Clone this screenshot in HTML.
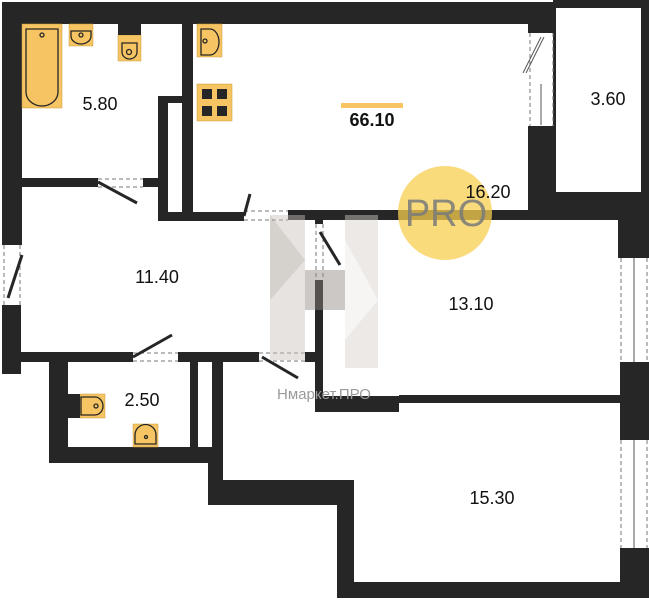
<!DOCTYPE html>
<html><head><meta charset="utf-8"><style>
html,body{margin:0;padding:0;background:#fff}
svg{display:block}
text{font-family:"Liberation Sans",sans-serif}
</style></head><body>
<svg width="649" height="600" viewBox="0 0 649 600">
<g fill="#262626">
<rect x="2" y="2" width="553" height="22"/>
<rect x="555" y="0" width="94" height="8"/>
<rect x="641" y="0" width="8" height="200"/>
<rect x="528" y="192" width="121" height="28"/>
<rect x="528" y="24" width="27" height="9"/>
<rect x="528" y="126" width="27" height="94"/>
<rect x="553" y="0" width="3" height="200"/>
<rect x="2" y="2" width="20" height="243"/>
<rect x="2" y="305" width="19" height="69"/>
<rect x="22" y="178" width="76" height="9"/>
<rect x="143" y="178" width="22" height="9"/>
<rect x="158" y="96" width="10" height="125"/>
<rect x="158" y="96" width="26" height="7"/>
<rect x="182" y="24" width="11" height="197"/>
<rect x="158" y="212" width="86" height="9"/>
<rect x="288" y="210" width="330" height="10"/>
<rect x="618" y="210" width="31" height="48"/>
<rect x="315" y="210" width="8" height="14"/>
<rect x="315" y="280" width="8" height="132"/>
<rect x="315" y="396" width="84" height="16"/>
<rect x="399" y="395" width="221" height="8"/>
<rect x="21" y="352" width="112" height="10"/>
<rect x="178" y="352" width="81" height="10"/>
<rect x="305" y="352" width="12" height="10"/>
<rect x="49" y="362" width="19" height="101"/>
<rect x="49" y="447" width="174" height="16"/>
<rect x="190" y="362" width="8" height="90"/>
<rect x="212" y="362" width="11" height="100"/>
<rect x="208" y="455" width="15" height="50"/>
<rect x="208" y="480" width="146" height="25"/>
<rect x="337" y="480" width="17" height="118"/>
<rect x="337" y="582" width="312" height="16"/>
<rect x="620" y="362" width="29" height="78"/>
<rect x="620" y="548" width="29" height="50"/>
</g>
<rect x="556" y="8" width="85" height="184" fill="#fff"/>
<g stroke="#777" stroke-width="1" stroke-dasharray="4,3" fill="none">
<line x1="530" y1="33" x2="530" y2="126"/><line x1="553" y1="33" x2="553" y2="126"/>
<line x1="4" y1="245" x2="4" y2="305"/><line x1="20" y1="245" x2="20" y2="305"/>
<line x1="98" y1="179" x2="143" y2="179"/><line x1="98" y1="187" x2="143" y2="187"/>
<line x1="244" y1="211" x2="288" y2="211"/><line x1="244" y1="220" x2="288" y2="220"/>
<line x1="316" y1="224" x2="316" y2="280"/><line x1="323" y1="224" x2="323" y2="280"/>
<line x1="133" y1="353" x2="178" y2="353"/><line x1="133" y1="361" x2="178" y2="361"/>
<line x1="259" y1="353" x2="305" y2="353"/><line x1="259" y1="361" x2="305" y2="361"/>
<line x1="621" y1="258" x2="621" y2="362"/><line x1="647" y1="258" x2="647" y2="362"/>
<line x1="621" y1="440" x2="621" y2="548"/><line x1="647" y1="440" x2="647" y2="548"/>
</g>
<g stroke="#262626" stroke-width="3">
<line x1="98" y1="182" x2="137" y2="203"/>
<line x1="244" y1="216" x2="250" y2="194"/>
<line x1="22" y1="255" x2="8" y2="298"/>
<line x1="320" y1="232" x2="340" y2="265"/>
<line x1="133" y1="357" x2="172" y2="335"/>
<line x1="262" y1="357" x2="298" y2="378"/>
</g>
<g stroke="#555" stroke-width="1" fill="none">
<line x1="541" y1="37" x2="523" y2="73"/><line x1="544" y1="37" x2="526" y2="73"/>
<line x1="541" y1="84" x2="541" y2="125"/><line x1="634" y1="258" x2="634" y2="362"/><line x1="634" y1="440" x2="634" y2="548"/>
</g>
<g fill="#f6c462" stroke="#c99a3a" stroke-width="0.5">
<rect x="22" y="24" width="40" height="84"/>
<rect x="69" y="24" width="24" height="22"/>
<rect x="118" y="35" width="23" height="26"/>
<rect x="197" y="24" width="25" height="33"/>
<rect x="197" y="84" width="35" height="37"/>
<rect x="80" y="394" width="25" height="24"/>
<rect x="133" y="424" width="25" height="23"/>
</g>
<g fill="#262626">
<rect x="202" y="89" width="10" height="10"/><rect x="217" y="89" width="10" height="10"/>
<rect x="202" y="106" width="10" height="10"/><rect x="217" y="106" width="10" height="10"/>
<rect x="118" y="24" width="23" height="11"/>
<rect x="68" y="394" width="12" height="24"/>
</g>
<g fill="none" stroke="#262626" stroke-width="1.3">
<path d="M26 29 H58 V92 A16 14 0 0 1 26 92 Z"/>
<path d="M71 31 H91 V36 A10 8 0 0 1 71 36 Z"/>
<path d="M122 43 H137 V52 A7.5 7 0 0 1 122 52 Z"/>
<path d="M201 29 H210 A9 13 0 0 1 210 55 H201 Z"/>
<path d="M81 397 H95 A8 9 0 0 1 95 415 H81 Z"/>
<path d="M135 444 V435 A9 9 0 0 1 156 435 V444 Z"/>
<circle cx="42" cy="35" r="2"/><circle cx="81" cy="35" r="2"/><circle cx="129" cy="52" r="2.5"/><circle cx="205" cy="41" r="2"/><circle cx="96" cy="406" r="2"/><circle cx="146" cy="437" r="1.5"/>
</g>
<g opacity="0.45">
<polygon points="270,215 305,215 305,360 270,360" fill="#c9c2bb"/>
<polygon points="345,215 378,215 378,368 345,368" fill="#d6d0ca"/>
<polygon points="270,215 305,260 270,300" fill="#a39a92"/>
<polygon points="305,270 345,270 345,310 305,310" fill="#8f877f"/>
<polygon points="345,240 378,300 345,340" fill="#efebe7"/>
</g>
<text x="324" y="399" font-size="15" fill="#9a9a9a" text-anchor="middle">Нмаркет.ПРО</text>
<circle cx="445" cy="213" r="47" fill="#f7cf50" opacity="0.75"/>
<text x="446" y="226" font-size="38" fill="#7a7a7a" text-anchor="middle" opacity="0.85">PRO</text>
<rect x="341" y="103" width="62" height="5" fill="#f6c462"/>
<g font-size="18" fill="#111" text-anchor="middle">
<text x="372" y="126" font-weight="bold">66.10</text>
<text x="100" y="110">5.80</text>
<text x="488" y="198">16.20</text>
<text x="608" y="105">3.60</text>
<text x="157" y="283">11.40</text>
<text x="471" y="310">13.10</text>
<text x="142" y="406">2.50</text>
<text x="492" y="504">15.30</text>
</g>
</svg>
</body></html>
